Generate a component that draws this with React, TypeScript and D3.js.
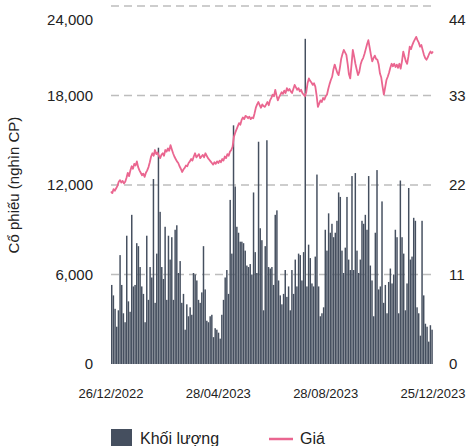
import React from "react";
import * as d3 from "d3";

// Khối lượng giao dịch (nghìn CP)
const volume = [
  5300, 4600, 3700, 2500, 3600, 7300, 5300, 3400, 2800, 8600,
  4200, 3500, 10000, 5200, 5300, 8100, 7900, 6500, 5200, 4700,
  2800, 8600, 4300, 6500, 5800, 12400, 4100, 7400, 14500, 10200,
  6500, 5700, 9200, 4300, 8600, 7000, 8500, 4300, 9000, 9300,
  6100, 6900, 4100, 4700, 2300, 4000, 3200, 3800, 3300, 6100,
  6000, 5600, 4300, 4100, 4800, 7900, 5000, 2900, 2800, 3200,
  3300, 1800, 2400, 2300, 2100, 1700, 3300, 4300, 5800, 6300,
  4700, 11000, 7400, 16000, 11900, 9200, 8800, 8200, 8200, 8100,
  7600, 6600, 6500, 6700, 6000, 11500, 7500, 6100, 14900, 9100,
  8300, 3600, 7900, 15000, 6500, 6400, 6500, 5300, 10000,
  10300, 5600, 4600, 4000, 4700, 6300, 4500, 5200, 3600, 6300,
  4700, 7000, 5200, 7400, 7300, 5600, 7500, 21800, 5200, 8000,
  7100, 5400, 5200, 7200, 12700, 5200, 3200, 3400, 3800, 9000,
  7600, 10100, 8800, 9400, 8500, 8800, 9600, 11500, 11200, 7600,
  6100, 7800, 11200, 7000, 6300, 12600, 6300, 12800, 7600, 6100,
  7000, 9600, 9400, 10000, 9000, 12600, 6600, 5600, 3200, 8800,
  13000, 5000, 5200, 10900, 4100, 5300, 3400, 5500, 6400, 5400,
  6000, 9000, 8500, 3400, 12300, 8500, 7400, 3600, 5400, 11800,
  7000, 7200, 9800, 9600, 3800, 3400, 1900, 9600, 4600, 2700,
  2500, 1500, 2600, 2300,
];

// Giá (nghìn đồng)
const price = [
  21.2, 21.0, 21.5, 21.3, 21.6, 21.9, 22.4, 22.6, 22.3, 22.5,
  22.2, 22.4, 22.9, 23.5, 23.1, 23.8, 24.3, 24.0, 24.6, 24.4,
  24.9, 24.2, 23.8, 23.5, 23.2, 23.4, 23.0, 23.5, 23.8, 24.2,
  24.8, 25.5, 25.9, 25.6, 26.3, 25.8, 26.0, 25.6, 25.3, 25.7,
  25.9, 25.6, 26.3, 26.1, 26.5, 26.2, 26.9, 26.4, 25.9, 25.5,
  25.2, 24.9, 24.7, 24.3, 24.0, 23.6, 23.9, 24.1, 24.4, 24.3,
  24.7, 24.9, 25.2, 25.0, 25.5, 25.9, 25.4, 25.6, 25.8, 25.3,
  25.5, 25.7, 25.4, 25.9, 25.6, 25.3, 25.1, 24.9, 24.7, 24.5,
  24.8, 24.6, 24.9, 24.7, 25.0, 24.8, 25.2, 25.0, 25.5, 25.3,
  25.8, 25.6, 26.1, 26.3, 26.7, 27.9, 28.4, 28.8, 29.2, 29.6,
  29.4, 30.0, 30.3, 30.1, 30.5, 30.4, 30.2, 30.4, 30.1, 30.3,
  30.2, 30.8, 31.5, 31.9, 32.2, 31.8, 31.5, 31.9, 31.7, 31.6,
  31.9, 32.2, 31.8, 32.4, 32.7, 33.1, 32.9, 33.7, 33.0, 32.4,
  32.8, 33.1, 33.4, 33.2, 33.6, 33.3, 33.9, 33.6, 33.8, 33.5,
  33.3, 33.8, 34.3, 34.0, 33.7, 33.9, 33.5, 33.7, 33.3, 33.1,
  32.9, 33.4, 34.5, 35.1, 34.8, 34.6, 34.3, 34.5, 34.1, 33.0,
  31.6, 32.0, 32.4, 32.2, 32.7, 32.5, 32.9, 33.1, 33.8, 34.4,
  34.9, 35.3, 36.2, 36.8, 36.3, 35.8, 35.5, 36.4, 37.5, 38.1,
  38.6, 38.3, 38.0, 36.9, 35.6, 35.1, 36.8, 38.6, 37.8, 36.9,
  36.2, 35.5, 35.9, 36.8, 37.3, 37.6, 38.1, 38.7, 39.3, 39.8,
  38.9, 38.0, 37.2, 37.6, 37.9, 37.5, 37.4, 36.8, 35.7, 35.2,
  34.1, 33.1, 34.0, 34.9, 35.3, 35.8, 36.4, 36.9, 36.6, 36.9,
  36.5, 36.8, 36.4, 36.9, 36.3, 37.2, 38.4, 37.8, 37.2, 36.9,
  37.8, 39.0, 38.7, 39.2, 39.6, 39.9, 40.2, 39.8, 39.5, 39.0,
  39.2, 38.6, 38.0, 37.6, 37.4, 37.7, 38.1, 38.4, 38.2, 38.4,
];

const dateLabels = ["26/12/2022", "28/04/2023", "28/08/2023", "25/12/2023"];
const volumeTicks = [0, 6000, 12000, 18000, 24000];
const priceTicks = [0, 11, 22, 33, 44];

const W = 467;
const H = 446;
const FONT = "'Liberation Sans', Arial, sans-serif";
const BAR = "#454f5f";
const PINK = "#ea6690";

export default function App() {
  const left = 111;
  const right = 433;
  const bottom = 364;
  const top = 6;

  const yVol = d3.scaleLinear().domain([0, 24000]).range([bottom, top]);
  const yPrice = d3.scaleLinear().domain([0, 44]).range([bottom, top]);
  const step = (right - left) / volume.length;
  const xVol = d3.scaleLinear().domain([0, volume.length]).range([left, right]);
  const xPrice = d3.scaleLinear().domain([0, price.length - 1]).range([left, right]);
  const xDate = d3.scalePoint<string>().domain(dateLabels).range([left, right]);

  const line = d3
    .line<number>()
    .x((_, i) => xPrice(i))
    .y((d) => yPrice(d));

  const fmt = d3.format(",");

  return (
    <div style={{ position: "fixed", left: 0, top: 0 }}>
      <svg width={W} height={H} style={{ display: "block", background: "#fff" }}>
        {/* grid */}
        {volumeTicks.slice(1).map((t) => (
          <line
            key={t}
            x1={left}
            x2={right}
            y1={yVol(t)}
            y2={yVol(t)}
            stroke="#bdbdbd"
            strokeWidth={1.5}
            strokeDasharray="8,5"
          />
        ))}

        {/* bars */}
        {volume.map((v, i) => (
          <rect
            key={i}
            x={xVol(i)}
            y={yVol(v)}
            width={step - 0.2}
            height={bottom - yVol(v)}
            fill={BAR}
          />
        ))}

        {/* price */}
        <path d={line(price) ?? ""} fill="none" stroke={PINK} strokeWidth={1.8} strokeLinejoin="round" />

        {/* left axis */}
        {volumeTicks.map((t) => (
          <text
            key={t}
            x={93}
            y={Math.max(yVol(t), 20)}
            dy="0.35em"
            textAnchor="end"
            fontFamily={FONT}
            fontSize={15}
            fill="#222"
          >
            {fmt(t)}
          </text>
        ))}

        {/* right axis */}
        {priceTicks.map((t) => (
          <text
            key={t}
            x={449}
            y={Math.max(yPrice(t), 20)}
            dy="0.35em"
            textAnchor="start"
            fontFamily={FONT}
            fontSize={15}
            fill="#222"
          >
            {t}
          </text>
        ))}

        {/* x labels */}
        {dateLabels.map((d) => (
          <text
            key={d}
            x={xDate(d)}
            y={393}
            dy="0.35em"
            textAnchor="middle"
            fontFamily={FONT}
            fontSize={13}
            fill="#222"
          >
            {d}
          </text>
        ))}

        <text
          transform={`translate(19,185) rotate(-90)`}
          textAnchor="middle"
          fontFamily={FONT}
          fontSize={15}
          fill="#222"
        >
          Cổ phiếu (nghìn CP)
        </text>

        {/* legend */}
        <rect x={111} y={429} width={21} height={21} fill={BAR} />
        <text x={140} y={444} fontFamily={FONT} fontSize={16} fill="#222">
          Khối lượng
        </text>
        <line x1={269} x2={293} y1={439} y2={439} stroke={PINK} strokeWidth={2.5} />
        <text x={300} y={444} fontFamily={FONT} fontSize={16} fill="#222">
          Giá
        </text>
      </svg>
    </div>
  );
}
